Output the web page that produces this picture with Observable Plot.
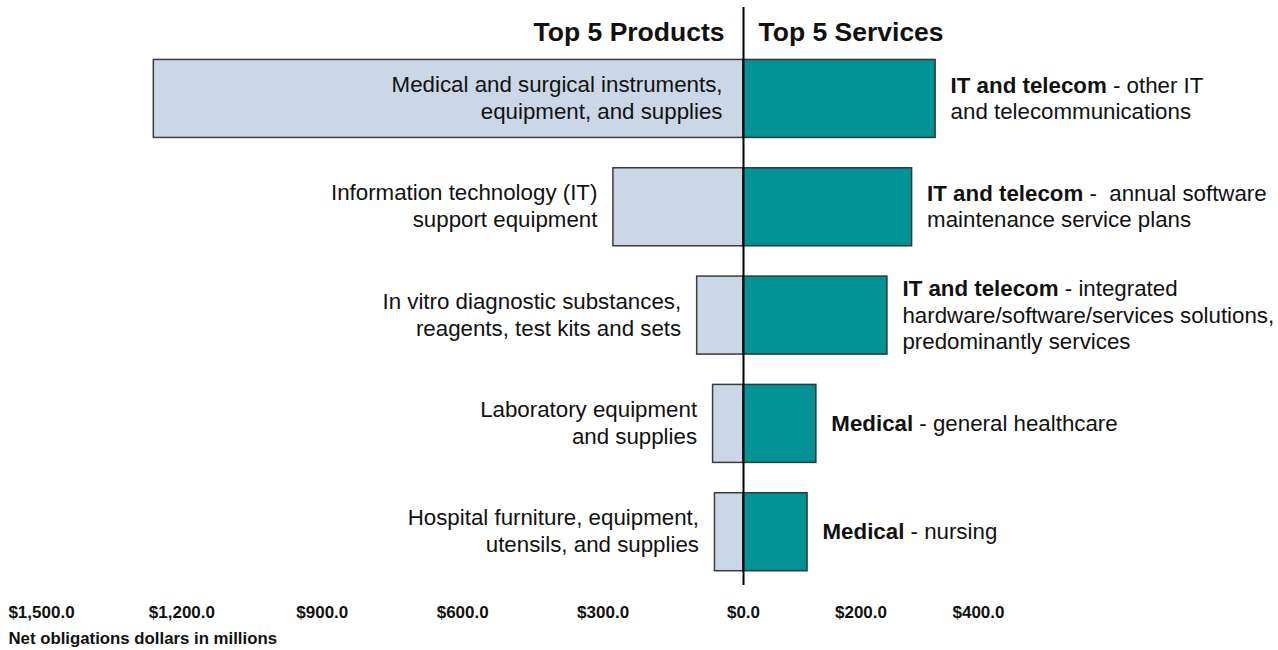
<!DOCTYPE html>
<html>
<head>
<meta charset="utf-8">
<script src="https://cdn.jsdelivr.net/npm/d3@7"></script>
<script src="https://cdn.jsdelivr.net/npm/@observablehq/plot@0.6"></script>
<style>
  html, body { margin: 0; padding: 0; background: #fff; }
  #chart svg { display: block; }
</style>
</head>
<body>
<div id="chart"></div>
<script>
// ---- data ----
const productNames = [
  "Medical and surgical instruments,\nequipment, and supplies",
  "Information technology (IT)\nsupport equipment",
  "In vitro diagnostic substances,\nreagents, test kits and sets",
  "Laboratory equipment\nand supplies",
  "Hospital furniture, equipment,\nutensils, and supplies"
];
const productValues = [1260, 278, 99, 65, 61];

const serviceCategory = ["IT and telecom", "IT and telecom", "IT and telecom", "Medical", "Medical"];
const serviceDetail = [
  "other IT\nand telecommunications",
  " annual software\nmaintenance service plans",
  "integrated\nhardware/software/services solutions,\npredominantly services",
  "general healthcare",
  "nursing"
];
const serviceValues = [327, 287, 245, 124, 109];

const tickValues = [-1500, -1200, -900, -600, -300, 0, 200, 400];
const panelTitles = ["Top 5 Products", "Top 5 Services"];
const axisTitle = "Net obligations dollars in millions";

// ---- tables ----
const products = productNames.map((name, i) => ({rank: i, name, value: productValues[i]}));
const services = serviceCategory.map((cat, i) => ({
  rank: i, cat, label: cat + " - " + serviceDetail[i], value: serviceValues[i]
}));

const fmt = d3.format(",.1f");
const labelSize = 22.3;

const chart = Plot.plot({
  width: 1278,
  height: 650,
  marginTop: 7,
  marginBottom: 65,
  marginLeft: 8,
  marginRight: 0,
  style: {fontFamily: "'Liberation Sans', Arial, Helvetica, sans-serif", background: "#fff"},
  x: {type: "linear", domain: [-1500, 0, 400], range: [41, 743, 978], axis: null},
  y: {domain: d3.range(5), paddingInner: 0.28, paddingOuter: 0.308, align: 0.786, round: false, axis: null},
  marks: [
    Plot.barX(products, {y: "rank", x1: 0, x2: d => -d.value, fill: "#cbd7e6", stroke: "#3c3c3c", strokeWidth: 1.5}),
    Plot.barX(services, {y: "rank", x1: 0, x2: "value", fill: "#009294", stroke: "#2d3a3a", strokeWidth: 1.5}),
    // product labels: inside the long bar, left of the others
    Plot.text(products.filter(d => d.value > 600), {
      y: "rank", x: 0, text: "name", dx: -21, dy: -2, textAnchor: "end", lineAnchor: "middle",
      fontSize: labelSize, lineHeight: 27 / labelSize, fill: "#111"
    }),
    Plot.text(products.filter(d => d.value <= 600), {
      y: "rank", x: d => -d.value, text: "name", dx: -16, dy: -2, textAnchor: "end", lineAnchor: "middle",
      fontSize: labelSize, lineHeight: 27 / labelSize, fill: "#111"
    }),
    Plot.text(services, {
      y: "rank", x: "value", text: "label", dx: 15, dy: -1.5, textAnchor: "start", lineAnchor: "middle",
      fontSize: labelSize, lineHeight: 26.5 / labelSize, fill: "#111"
    }),
    // panel titles
    Plot.text([panelTitles[0]], {x: 0, frameAnchor: "top", dx: -19, dy: 25, textAnchor: "end", lineAnchor: "middle",
      fontSize: 26.5, fontWeight: "bold", fill: "#111"}),
    Plot.text([panelTitles[1]], {x: 0, frameAnchor: "top", dx: 15, dy: 25, textAnchor: "start", lineAnchor: "middle",
      fontSize: 26.5, fontWeight: "bold", fill: "#111"}),
    Plot.ruleX([0], {stroke: "#000", strokeWidth: 2}),
    // tick labels
    Plot.text(tickValues, {x: d => d, frameAnchor: "bottom", dy: 27, lineAnchor: "middle",
      text: d => "$" + fmt(Math.abs(d)), fontSize: 17, fontWeight: "bold", fill: "#111"}),
    Plot.text([axisTitle], {frameAnchor: "bottom-left", dy: 53, textAnchor: "start", lineAnchor: "middle",
      fontSize: 16.8, fontWeight: "bold", fill: "#111"})
  ]
});

// bold the category prefix of the service labels
const ns = "http://www.w3.org/2000/svg";
chart.querySelectorAll("text").forEach(t => {
  const first = t.querySelector("tspan") || t;
  const s = first.textContent;
  for (const c of new Set(serviceCategory)) {
    if (s.startsWith(c + " -")) {
      first.textContent = "";
      const b = document.createElementNS(ns, "tspan");
      b.setAttribute("font-weight", "bold");
      b.textContent = c;
      const r = document.createElementNS(ns, "tspan");
      r.setAttribute("style", "white-space: pre");
      r.textContent = s.slice(c.length);
      first.append(b, r);
      break;
    }
  }
});

document.getElementById("chart").append(chart);
</script>
</body>
</html>
